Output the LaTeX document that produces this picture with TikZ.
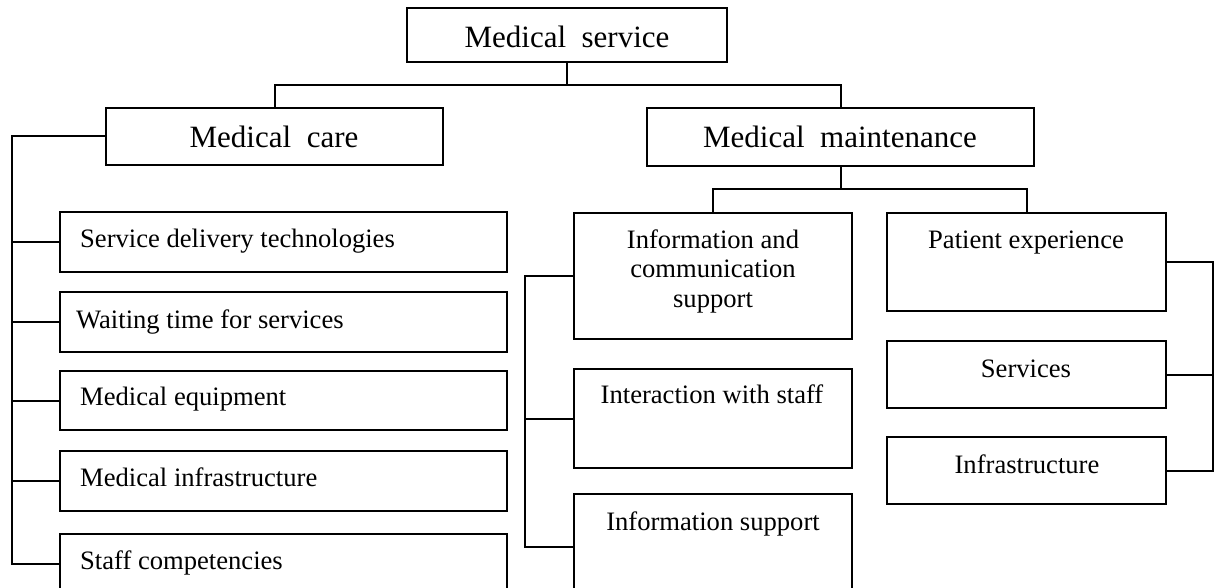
\documentclass[tikz,border=0pt]{standalone}
\usepackage{fontspec}
\setmainfont{Liberation Serif}
\begin{document}
\begin{tikzpicture}[x=1pt,y=-1pt,
  box/.style={draw=black,line width=2pt,rectangle,inner sep=0pt,outer sep=0pt,anchor=north west},
  big/.style={inner sep=0pt,anchor=base,font=\fontsize{31}{36}\selectfont},
  small/.style={inner sep=0pt,anchor=base,font=\fontsize{26.6}{30}\selectfont},
  smallL/.style={small,anchor=base west},
  link/.style={draw=black,line width=2pt}]
\useasboundingbox (0,0) rectangle (1216,588);
\clip (0,0) rectangle (1216,588);
% boxes
\node[box,minimum width=320pt,minimum height=54pt] (ms) at (407,8) {};
\node[box,minimum width=337pt,minimum height=57pt] (mc) at (106,108) {};
\node[box,minimum width=387pt,minimum height=58pt] (mm) at (647,108) {};
\node[box,minimum width=447pt,minimum height=60pt] (sdt) at (60,212) {};
\node[box,minimum width=447pt,minimum height=60pt] (wt) at (60,292) {};
\node[box,minimum width=447pt,minimum height=59pt] (me) at (60,371) {};
\node[box,minimum width=447pt,minimum height=60pt] (mi) at (60,451) {};
\node[box,minimum width=447pt,minimum height=60pt] (sc) at (60,534) {};
\node[box,minimum width=278pt,minimum height=126pt] (ic) at (574,213) {};
\node[box,minimum width=278pt,minimum height=99pt] (iw) at (574,369) {};
\node[box,minimum width=278pt,minimum height=106pt] (is) at (574,494) {};
\node[box,minimum width=279pt,minimum height=98pt] (pe) at (887,213) {};
\node[box,minimum width=279pt,minimum height=67pt] (sv) at (887,341) {};
\node[box,minimum width=279pt,minimum height=67pt] (inf) at (887,437) {};
% texts
\node[big] (tms) at (567,48) {Medical\ \ service};
\node[big] (tmc) at (274,148) {Medical\ \ care};
\node[big] (tmm) at (840,148) {Medical\ \ maintenance};
\node[smallL] (tsdt) at (80,248) {Service delivery technologies};
\node[smallL] (twt) at (76,328) {Waiting time for services};
\node[smallL] (tme) at (80,405) {Medical equipment};
\node[smallL] (tmi) at (80,486) {Medical infrastructure};
\node[smallL] (tsc) at (80,569) {Staff competencies};
\node[small] (tic1) at (713,249) {Information and};
\node[small] (tic2) at (713,278) {communication};
\node[small] (tic3) at (713,308) {support};
\node[small] (tiw) at (712,403) {Interaction with staff};
\node[small] (tis) at (713,530) {Information support};
\node[small] (tpe) at (1026,249) {Patient experience};
\node[small] (tsv) at (1026,377) {Services};
\node[small] (tinf) at (1027,473) {Infrastructure};
% connectors
\coordinate (j1) at (567,85);
\coordinate (j2) at (841,189);
\coordinate (L) at (12,0);
\coordinate (L2) at (525,0);
\coordinate (R) at (1213,0);
\draw[link] (ms.south) -- (j1);
\draw[link] (mc.north) -- (mc.north |- j1) -- (mm.north |- j1) -- (mm.north);
\draw[link] (mm.south) -- (mm.south |- j2);
\draw[link] (ic.north) -- (ic.north |- j2) -- (pe.north |- j2) -- (pe.north);
\draw[link] (mc.west) -| (sc.west -| L) -- (sc.west);
\draw[link] (L |- sdt.west) -- (sdt.west);
\draw[link] (L |- wt.west) -- (wt.west);
\draw[link] (L |- me.west) -- (me.west);
\draw[link] (L |- mi.west) -- (mi.west);
\draw[link] (ic.west) -| (is.west -| L2) -- (is.west);
\draw[link] (L2 |- iw.west) -- (iw.west);
\draw[link] (pe.east) -| (inf.east -| R) -- (inf.east);
\draw[link] (R |- sv.east) -- (sv.east);
\end{tikzpicture}
\end{document}
